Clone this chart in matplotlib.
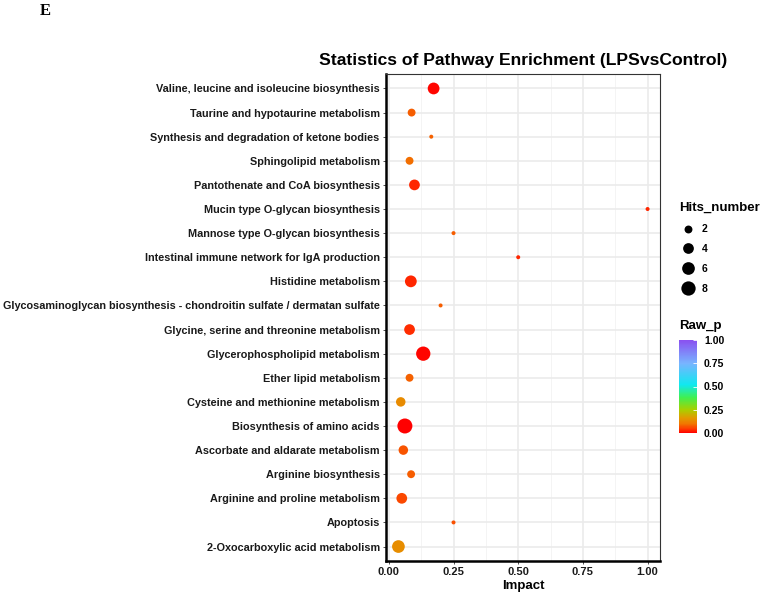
import numpy as np
import matplotlib
matplotlib.use("Agg")
import matplotlib.pyplot as plt
from matplotlib.colors import LinearSegmentedColormap, Normalize
from matplotlib.lines import Line2D
import matplotlib.cm as cm

plt.rcParams['font.family'] = ['Liberation Sans', 'DejaVu Sans']

# ---- data (top row first) ----
pathways = [
    "Valine, leucine and isoleucine biosynthesis",
    "Taurine and hypotaurine metabolism",
    "Synthesis and degradation of ketone bodies",
    "Sphingolipid metabolism",
    "Pantothenate and CoA biosynthesis",
    "Mucin type O-glycan biosynthesis",
    "Mannose type O-glycan biosynthesis",
    "Intestinal immune network for IgA production",
    "Histidine metabolism",
    "Glycosaminoglycan biosynthesis - chondroitin sulfate / dermatan sulfate",
    "Glycine, serine and threonine metabolism",
    "Glycerophospholipid metabolism",
    "Ether lipid metabolism",
    "Cysteine and methionine metabolism",
    "Biosynthesis of amino acids",
    "Ascorbate and aldarate metabolism",
    "Arginine biosynthesis",
    "Arginine and proline metabolism",
    "Apoptosis",
    "2-Oxocarboxylic acid metabolism",
]
impact = [0.173, 0.088, 0.164, 0.080, 0.099, 1.000, 0.250, 0.500, 0.085, 0.200,
          0.080, 0.133, 0.080, 0.046, 0.062, 0.056, 0.086, 0.050, 0.250, 0.037]
hits = [5, 2, 1, 2, 4, 1, 1, 1, 5, 1,
        4, 8, 2, 3, 9, 3, 2, 4, 1, 6]
raw_p = [0.004, 0.075, 0.08, 0.09, 0.03, 0.03, 0.075, 0.03, 0.03, 0.075,
         0.035, 0.005, 0.08, 0.135, 0.003, 0.07, 0.075, 0.055, 0.065, 0.14]
size_breaks = [2, 4, 6, 8]
cbar_ticks = [0.00, 0.25, 0.50, 0.75, 1.00]
x_ticks = [0.00, 0.25, 0.50, 0.75, 1.00]

# ---- colour gradient for Raw_p (as seen in the reference bar) ----
grad_pos = [0.0, 0.04, 0.10, 0.16, 0.25, 0.38, 0.52, 0.75, 1.0]
grad_col = ["#FF0000", "#FF3800", "#F07800", "#E29A00", "#A8D000", "#40F050",
            "#10E8F0", "#78B4FF", "#8A50F0"]
cmap = LinearSegmentedColormap.from_list("rawp", list(zip(grad_pos, grad_col)))
norm = Normalize(0, 1)

# ---- size mapping ----
hmin, hmax = 1, max(hits)
def diam_pt(h):
    px = 4 + 11 * np.sqrt((np.asarray(h, float) - hmin) / (hmax - hmin))
    return px * 0.72

fig = plt.figure(figsize=(7.62, 5.95), dpi=100)
ax = fig.add_axes([386 / 762, 1 - 561 / 595, (660 - 386) / 762, (561 - 74) / 595])

n = len(pathways)
ypos = np.arange(n)[::-1]
ax.scatter(impact, ypos, s=diam_pt(hits) ** 2, c=cmap(norm(raw_p)), linewidths=0, zorder=3)

ax.set_xlim(-0.011, 1.048)
ax.set_ylim(-0.6, n - 1 + 0.6)
ax.set_yticks(ypos)
ax.set_yticklabels(pathways, fontsize=7.8, fontweight='bold', color='#1a1a1a')
ax.set_xticks(x_ticks)
ax.set_xticklabels([f"{v:.2f}" for v in x_ticks], fontsize=8, fontweight='bold', color='#1a1a1a')
ax.set_xticks([0.125, 0.375, 0.625, 0.875], minor=True)
ax.grid(True, which='major', color='#EBEBEB', linewidth=1.2, zorder=0)
ax.grid(True, which='minor', axis='x', color='#F2F2F2', linewidth=0.6, zorder=0)
ax.set_axisbelow(True)
ax.tick_params(axis='both', which='major', length=2.5, width=0.6, color='#333333', pad=2)
ax.tick_params(axis='x', which='minor', length=0)
for side in ['top', 'right']:
    ax.spines[side].set_color('#333333')
    ax.spines[side].set_linewidth(0.8)
for side in ['left', 'bottom']:
    ax.spines[side].set_color('black')
    ax.spines[side].set_linewidth(1.8)
ax.set_xlabel("Impact", fontsize=9.5, fontweight='bold', labelpad=2)

fig.text(523 / 762, 1 - 60 / 595, "Statistics of Pathway Enrichment (LPSvsControl)",
         ha='center', va='center', fontsize=12.6, fontweight='bold')
fig.text(45 / 762, 1 - 11 / 595, "E", family=['Liberation Serif', 'DejaVu Serif'],
         fontsize=12, fontweight='bold', ha='center', va='center')

# size legend
fig.text(679 / 762, 1 - 208 / 595, "Hits_number", fontsize=9.5, fontweight='bold',
         ha='left', va='center')
handles = [Line2D([], [], marker='o', linestyle='none', color='black',
                  markersize=float(diam_pt(b)), markeredgewidth=0) for b in size_breaks]
leg = fig.legend(handles, [str(b) for b in size_breaks], loc='upper left',
                 bbox_to_anchor=(674 / 762, 1 - 219 / 595), frameon=False,
                 prop={'size': 7.5, 'weight': 'bold'}, handletextpad=0.6,
                 labelspacing=0.95, borderpad=0, handlelength=1.6)

# colorbar
fig.text(679 / 762, 1 - 326 / 595, "Raw_p", fontsize=9.5, fontweight='bold',
         ha='left', va='center')
cax = fig.add_axes([679 / 762, 1 - 433 / 595, 18 / 762, 93 / 595])
cb = fig.colorbar(cm.ScalarMappable(norm=norm, cmap=cmap), cax=cax, ticks=cbar_ticks)
cb.outline.set_visible(False)
cb.ax.set_yticklabels([f"{v:.2f}" for v in cbar_ticks], fontsize=7.5, fontweight='bold')
cb.ax.tick_params(length=3, color='white', width=0.6, direction='in', pad=5)

fig.savefig("out.png", dpi=100)
